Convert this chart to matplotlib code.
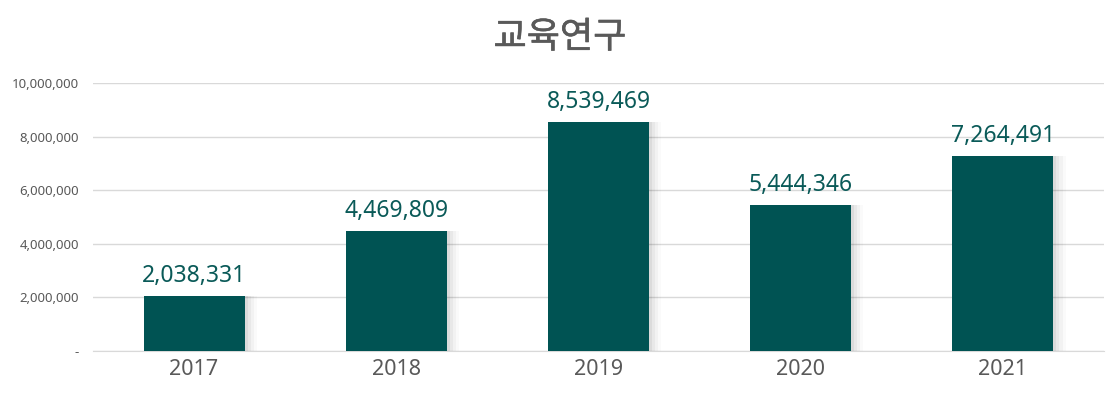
import matplotlib
matplotlib.use("Agg")
import matplotlib.pyplot as plt
import matplotlib.patheffects as pe
from matplotlib.ticker import FuncFormatter

years = ["2017", "2018", "2019", "2020", "2021"]
values = [2038331, 4469809, 8539469, 5444346, 7264491]
title = "교육연구"

plt.rcParams['font.family'] = ['Noto Sans', 'Noto Sans CJK KR', 'DejaVu Sans']

bar_color = "#005353"
gray = "#595959"

fig = plt.figure(figsize=(11.2, 3.97), dpi=100)
ax = fig.add_axes([0.083, 0.116, 0.9027, 0.675])

x = range(len(years))
# soft shadow around the bars
for i, a in enumerate([0.05, 0.04, 0.03, 0.02]):
    off = 0.01 * (i + 1)
    ax.bar([p + off for p in x], values, width=0.5 + off, color="black", alpha=a,
           zorder=2, linewidth=0)
bars = ax.bar(x, values, width=0.5, color=bar_color, zorder=3)

for b, v in zip(bars, values):
    ax.text(b.get_x() + b.get_width() / 2, v + 300000, f"{v:,}",
            ha="center", va="bottom", fontsize=16.5, color="#0a5a58", zorder=4)

ax.set_xlim(-0.5, 4.5)
ax.set_ylim(0, 10000000)
ax.set_yticks(range(0, 10000001, 2000000))
ax.yaxis.set_major_formatter(FuncFormatter(lambda v, p: "-" if v == 0 else f"{int(v):,}"))
ax.set_xticks(list(x))
ax.set_xticklabels(years)
ax.tick_params(axis="y", length=0, labelsize=9.5, colors=gray, pad=10)
ax.tick_params(axis="x", length=0, labelsize=15.5, colors=gray, pad=6)
ax.grid(axis="y", color="#d9d9d9", linewidth=1, zorder=0)
for s in ["top", "right", "left"]:
    ax.spines[s].set_visible(False)
ax.spines["bottom"].set_color("#d9d9d9")

fig.text(0.5, 0.905, title, ha="center", va="center", fontsize=26,
         color=gray, family=['Noto Sans CJK KR', 'DejaVu Sans'],
         path_effects=[pe.withStroke(linewidth=0.4, foreground=gray)])

fig.savefig("out.png", dpi=100)
